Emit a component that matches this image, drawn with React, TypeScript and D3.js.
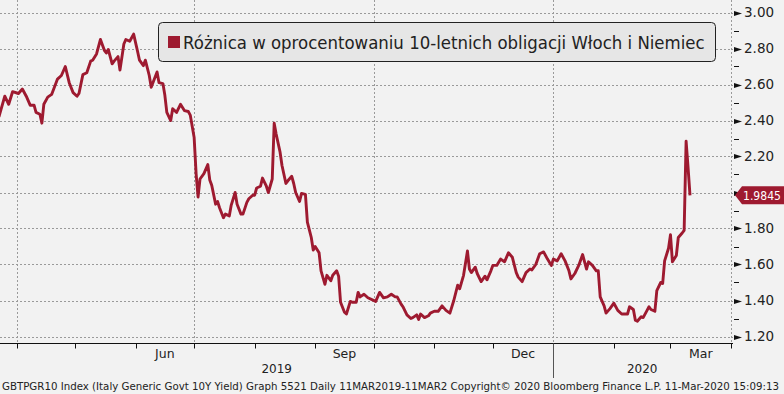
import { useEffect, useRef } from "react"
import * as d3 from "d3"

// Spread, Italy vs Germany 10Y (percentage points)
const dates = [
  "2019-03-23", "2019-03-26", "2019-03-28", "2019-03-30", "2019-04-02", "2019-04-04", "2019-04-06", "2019-04-08",
  "2019-04-10", "2019-04-11", "2019-04-13", "2019-04-14", "2019-04-15", "2019-04-17", "2019-04-19", "2019-04-22",
  "2019-04-24", "2019-04-26", "2019-04-28", "2019-04-30", "2019-05-02", "2019-05-03", "2019-05-05", "2019-05-07",
  "2019-05-09", "2019-05-10", "2019-05-12", "2019-05-14", "2019-05-16", "2019-05-17", "2019-05-18", "2019-05-20",
  "2019-05-21", "2019-05-23", "2019-05-24", "2019-05-26", "2019-05-27", "2019-05-29", "2019-05-31", "2019-06-02",
  "2019-06-03", "2019-06-05", "2019-06-06", "2019-06-08", "2019-06-09", "2019-06-12", "2019-06-13", "2019-06-15",
  "2019-06-16", "2019-06-17", "2019-06-19", "2019-06-20", "2019-06-22", "2019-06-24", "2019-06-26", "2019-06-28",
  "2019-06-29", "2019-07-01", "2019-07-02", "2019-07-03", "2019-07-04", "2019-07-06", "2019-07-08", "2019-07-09",
  "2019-07-10", "2019-07-12", "2019-07-13", "2019-07-14", "2019-07-16", "2019-07-17", "2019-07-19", "2019-07-20",
  "2019-07-22", "2019-07-23", "2019-07-25", "2019-07-26", "2019-07-28", "2019-07-29", "2019-07-31", "2019-08-01",
  "2019-08-02", "2019-08-04", "2019-08-05", "2019-08-07", "2019-08-08", "2019-08-10", "2019-08-11", "2019-08-12",
  "2019-08-14", "2019-08-15", "2019-08-17", "2019-08-18", "2019-08-20", "2019-08-21", "2019-08-22", "2019-08-24",
  "2019-08-25", "2019-08-27", "2019-08-28", "2019-08-30", "2019-08-31", "2019-09-01", "2019-09-03", "2019-09-04",
  "2019-09-06", "2019-09-07", "2019-09-09", "2019-09-10", "2019-09-12", "2019-09-13", "2019-09-14", "2019-09-16",
  "2019-09-17", "2019-09-19", "2019-09-20", "2019-09-22", "2019-09-23", "2019-09-24", "2019-09-26", "2019-09-28",
  "2019-10-02", "2019-10-04", "2019-10-06", "2019-10-08", "2019-10-10", "2019-10-12", "2019-10-13", "2019-10-15",
  "2019-10-16", "2019-10-18", "2019-10-20", "2019-10-21", "2019-10-23", "2019-10-24", "2019-10-25", "2019-10-27",
  "2019-10-29", "2019-10-30", "2019-11-01", "2019-11-03", "2019-11-05", "2019-11-07", "2019-11-09", "2019-11-11",
  "2019-11-13", "2019-11-14", "2019-11-16", "2019-11-18", "2019-11-19", "2019-11-20", "2019-11-22", "2019-11-23",
  "2019-11-25", "2019-11-27", "2019-11-28", "2019-11-30", "2019-12-01", "2019-12-03", "2019-12-05", "2019-12-07",
  "2019-12-09", "2019-12-11", "2019-12-13", "2019-12-14", "2019-12-16", "2019-12-18", "2019-12-20", "2019-12-21",
  "2019-12-23", "2019-12-25", "2019-12-27", "2019-12-29", "2019-12-31", "2020-01-01", "2020-01-03", "2020-01-05",
  "2020-01-07", "2020-01-09", "2020-01-10", "2020-01-12", "2020-01-14", "2020-01-16", "2020-01-17", "2020-01-18",
  "2020-01-19", "2020-01-21", "2020-01-23", "2020-01-24", "2020-01-25", "2020-01-27", "2020-01-28", "2020-01-30",
  "2020-02-01", "2020-02-03", "2020-02-05", "2020-02-07", "2020-02-08", "2020-02-09", "2020-02-11", "2020-02-12",
  "2020-02-13", "2020-02-15", "2020-02-16", "2020-02-18", "2020-02-19", "2020-02-20", "2020-02-22", "2020-02-23",
  "2020-02-25", "2020-02-26", "2020-02-27", "2020-02-29", "2020-03-01", "2020-03-02", "2020-03-04", "2020-03-05",
  "2020-03-07", "2020-03-08", "2020-03-09", "2020-03-10", "2020-03-11",
]

const spread = [
  2.42, 2.535, 2.49, 2.56, 2.55, 2.575, 2.535, 2.485,
  2.485, 2.445, 2.435, 2.385, 2.49, 2.53, 2.545, 2.63,
  2.65, 2.7, 2.61, 2.555, 2.535, 2.55, 2.655, 2.665,
  2.73, 2.735, 2.77, 2.85, 2.79, 2.775, 2.795, 2.715,
  2.73, 2.755, 2.68, 2.825, 2.85, 2.84, 2.88, 2.785,
  2.735, 2.705, 2.735, 2.65, 2.585, 2.67, 2.61, 2.605,
  2.54, 2.445, 2.4, 2.465, 2.445, 2.49, 2.455, 2.45,
  2.43, 2.305, 2.105, 1.975, 2.075, 2.105, 2.155, 2.07,
  2.04, 1.935, 1.95, 1.915, 1.86, 1.88, 1.87, 1.93,
  2.0, 1.935, 1.88, 1.88, 1.945, 1.965, 1.985, 1.985,
  2.025, 2.035, 2.08, 2.035, 2.0, 2.075, 2.385, 2.325,
  2.225, 2.15, 2.05, 2.065, 2.09, 2.05, 2.0, 1.95,
  1.995, 1.99, 1.835, 1.75, 1.68, 1.7, 1.665, 1.565,
  1.49, 1.54, 1.51, 1.54, 1.565, 1.535, 1.39, 1.335,
  1.325, 1.395, 1.39, 1.39, 1.445, 1.42, 1.435, 1.415,
  1.395, 1.445, 1.415, 1.42, 1.435, 1.42, 1.42, 1.38,
  1.365, 1.32, 1.3, 1.305, 1.32, 1.295, 1.325, 1.305,
  1.315, 1.33, 1.34, 1.34, 1.37, 1.345, 1.33, 1.4,
  1.485, 1.465, 1.54, 1.675, 1.575, 1.555, 1.585, 1.55,
  1.505, 1.535, 1.515, 1.565, 1.595, 1.595, 1.63, 1.615,
  1.665, 1.64, 1.555, 1.53, 1.505, 1.555, 1.575, 1.57,
  1.6, 1.66, 1.67, 1.63, 1.595, 1.63, 1.62, 1.66,
  1.62, 1.565, 1.52, 1.55, 1.595, 1.655, 1.615, 1.575,
  1.615, 1.595, 1.565, 1.565, 1.42, 1.37, 1.33, 1.355,
  1.385, 1.345, 1.325, 1.325, 1.325, 1.365, 1.35, 1.29,
  1.285, 1.31, 1.305, 1.345, 1.365, 1.35, 1.34, 1.455,
  1.5, 1.495, 1.62, 1.69, 1.765, 1.615, 1.65, 1.75,
  1.775, 1.79, 2.285, 2.14, 1.9845,
]

const yTicks = [1.2, 1.4, 1.6, 1.8, 2.0, 2.2, 2.4, 2.6, 2.8, 3.0]
const yMinorTicks = [1.3, 1.5, 1.7, 1.9, 2.1, 2.3, 2.5, 2.7, 2.9]
const quarterStarts = ["2019-04-01", "2019-07-01", "2019-10-01", "2020-01-01", "2020-04-01"]
const labelMonths = ["2019-06-01", "2019-09-01", "2019-12-01", "2020-03-01"]
const monthNames = ["Jun", "Sep", "Dec", "Mar"]
const years = ["2019", "2020"]

const legendText = "Różnica w oprocentowaniu 10-letnich obligacji Włoch i Niemiec"
const footerText =
  "GBTPGR10 Index (Italy Generic Govt 10Y Yield) Graph 5521  Daily 11MAR2019-11MAR2 Copyright\u00a9 2020 Bloomberg Finance L.P. 11-Mar-2020 15:09:13"

const LINE = "#9e1a30"
const FONT = "'DejaVu Sans', Verdana, sans-serif"

export default function App() {
  const svgRef = useRef<SVGSVGElement>(null)

  useEffect(() => {
    if (!svgRef.current) return
    const width = 784
    const height = 394
    const plotRight = 733
    const axisY = 343.5

    const svg = d3.select(svgRef.current)
    svg.selectAll("*").remove()
    svg.attr("width", width).attr("height", height)

    const parse = d3.timeParse("%Y-%m-%d")
    const data = dates.map((d, i) => ({ date: parse(d) as Date, value: spread[i] }))
    const last = data[data.length - 1]

    const x = d3
      .scaleTime()
      .domain([new Date(2019, 3, 1), new Date(2020, 3, 1)])
      .range([16.5, 731])
    const y = d3.scaleLinear().domain([1.2, 3.0]).range([336.5, 12.5])
    const ly = y(last.value)

    // squeezes a text horizontally to a target width
    const fitText = (
      sel: d3.Selection<SVGTextElement, unknown, null, undefined>,
      tx: number,
      ty: number,
      target: number,
    ) => {
      const natural = (sel.node() as SVGTextElement).getComputedTextLength() || target
      sel.attr("transform", `translate(${tx},${ty}) scale(${target / natural},1)`)
    }

    // background
    svg.append("rect").attr("width", width).attr("height", height).attr("fill", "#f2f2f2")

    // grid
    const grid = svg.append("g").attr("stroke", "#9a9a9a").attr("stroke-dasharray", "2,2")
    grid
      .selectAll("line.h")
      .data(yTicks)
      .enter()
      .append("line")
      .attr("x1", 0)
      .attr("x2", plotRight)
      .attr("y1", (d) => Math.round(y(d)) + 0.5)
      .attr("y2", (d) => Math.round(y(d)) + 0.5)
    grid
      .selectAll("line.v")
      .data(quarterStarts)
      .enter()
      .append("line")
      .attr("x1", (d) => Math.round(x(parse(d) as Date)) + 0.5)
      .attr("x2", (d) => Math.round(x(parse(d) as Date)) + 0.5)
      .attr("y1", 0)
      .attr("y2", axisY)

    // bottom axis
    svg
      .append("line")
      .attr("x1", 0)
      .attr("x2", plotRight)
      .attr("y1", axisY)
      .attr("y2", axisY)
      .attr("stroke", "#111")
    const months = d3.timeMonth.range(new Date(2019, 3, 1), new Date(2020, 3, 2))
    svg
      .append("g")
      .selectAll("line")
      .data(months)
      .enter()
      .append("line")
      .attr("x1", (d) => Math.round(x(d)) + 0.5)
      .attr("x2", (d) => Math.round(x(d)) + 0.5)
      .attr("y1", axisY)
      .attr("y2", axisY + 5)
      .attr("stroke", "#111")

    svg
      .append("g")
      .selectAll("text")
      .data(labelMonths)
      .enter()
      .append("text")
      .attr("x", (d) => {
        const s = parse(d) as Date
        return (x(s) + x(d3.timeMonth.offset(s, 1))) / 2
      })
      .attr("y", 358)
      .attr("text-anchor", "middle")
      .attr("font-family", FONT)
      .attr("font-size", 12.5)
      .attr("fill", "#222")
      .text((_, i) => monthNames[i])

    svg
      .append("g")
      .selectAll("text")
      .data(years)
      .enter()
      .append("text")
      .attr("x", (d) => {
        const a = Math.max(0, x(new Date(+d, 0, 1)))
        const b = Math.min(731, x(new Date(+d + 1, 0, 1)))
        return (a + b) / 2
      })
      .attr("y", 373)
      .attr("text-anchor", "middle")
      .attr("font-family", FONT)
      .attr("font-size", 12)
      .attr("fill", "#222")
      .text((d) => d)

    // year separator
    const yearX = Math.round(x(new Date(2020, 0, 1))) + 0.5
    svg
      .append("line")
      .attr("x1", yearX)
      .attr("x2", yearX)
      .attr("y1", axisY)
      .attr("y2", 378)
      .attr("stroke", "#555")

    // right axis ticks + labels (label under the value tag is hidden)
    const right = svg.append("g")
    right
      .selectAll("path")
      .data(yTicks)
      .enter()
      .append("path")
      .attr("d", (d) => {
        const ty = Math.round(y(d)) + 0.5
        return `M734,${ty - 2.5}L742,${ty}L734,${ty + 2.5}Z`
      })
      .attr("fill", "#111")
    right
      .selectAll("line")
      .data(yMinorTicks)
      .enter()
      .append("line")
      .attr("x1", 734)
      .attr("x2", 739)
      .attr("y1", (d) => Math.round(y(d)) + 0.5)
      .attr("y2", (d) => Math.round(y(d)) + 0.5)
      .attr("stroke", "#111")
    right
      .selectAll("text")
      .data(yTicks.filter((d) => Math.abs(y(d) - ly) > 14))
      .enter()
      .append("text")
      .attr("x", 744)
      .attr("y", (d) => y(d))
      .attr("dy", "0.36em")
      .attr("font-family", FONT)
      .attr("font-size", 13.5)
      .attr("fill", "#222")
      .text((d) => d.toFixed(2))

    // series line
    svg
      .append("clipPath")
      .attr("id", "plot-clip")
      .append("rect")
      .attr("x", 0)
      .attr("y", 0)
      .attr("width", plotRight)
      .attr("height", axisY)
    const line = d3
      .line<{ date: Date; value: number }>()
      .x((d) => x(d.date))
      .y((d) => y(d.value))
    svg
      .append("path")
      .datum(data)
      .attr("clip-path", "url(#plot-clip)")
      .attr("d", line)
      .attr("fill", "none")
      .attr("stroke", LINE)
      .attr("stroke-width", 2.9)
      .attr("stroke-linejoin", "round")

    // last value tag
    svg
      .append("path")
      .attr("d", `M735,${ly}L742,${ly - 9}L784,${ly - 9}L784,${ly + 9}L742,${ly + 9}Z`)
      .attr("fill", LINE)
    const tag = svg
      .append("text")
      .attr("dy", "0.36em")
      .attr("font-family", FONT)
      .attr("font-size", 12.5)
      .attr("fill", "#fff")
      .text(last.value.toFixed(4))
    fitText(tag, 743, ly, 38)

    // legend
    svg
      .append("rect")
      .attr("x", 158.5)
      .attr("y", 22.5)
      .attr("width", 557)
      .attr("height", 39)
      .attr("rx", 4)
      .attr("fill", "#e6e6e6")
      .attr("stroke", "#222")
    svg
      .append("rect")
      .attr("x", 168)
      .attr("y", 36)
      .attr("width", 12)
      .attr("height", 12)
      .attr("fill", LINE)
    const legend = svg
      .append("text")
      .attr("font-family", FONT)
      .attr("font-size", 18.5)
      .attr("fill", "#222")
      .text(legendText)
    fitText(legend, 183, 49, 522)

    // footer
    const footer = svg
      .append("text")
      .attr("font-family", FONT)
      .attr("font-size", 10.5)
      .attr("fill", "#222")
      .text(footerText)
    fitText(footer, 2, 390, 778)
  }, [])

  return (
    <div style={{ position: "absolute", left: 0, top: 0, width: 784, height: 394 }}>
      <svg ref={svgRef} style={{ display: "block" }}></svg>
    </div>
  )
}
